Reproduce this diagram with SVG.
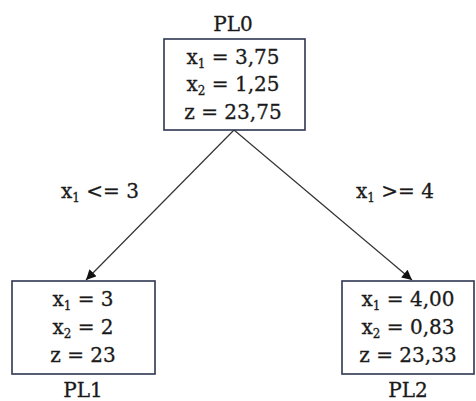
<svg xmlns="http://www.w3.org/2000/svg" width="476" height="401" viewBox="0 0 476 401">
<defs>
<style>
.t{font-family:"DejaVu Serif","Liberation Serif",serif;font-size:20px;fill:#1a1a1a;stroke:#1a1a1a;stroke-width:0.3;text-anchor:middle}
.s{font-size:12px}
.box{fill:#fff;stroke:#2e3650;stroke-width:1.6}
.edge{stroke:#333;stroke-width:1.2;fill:none}
</style>
<marker id="arr" viewBox="0 0 10 10" refX="10" refY="5" markerWidth="11" markerHeight="10" markerUnits="userSpaceOnUse" orient="auto">
<path d="M0,0 L10,5 L0,10 z" fill="#111"/>
</marker>
</defs>
<rect width="476" height="401" fill="#fff"/>
<g id="edges">
<line class="edge" x1="234" y1="130" x2="86" y2="280" marker-end="url(#arr)"/>
<line class="edge" x1="234" y1="130" x2="412" y2="280" marker-end="url(#arr)"/>
<text class="t" x="100" y="198">x<tspan class="s" dy="4">1</tspan><tspan dy="-4"> &lt;= 3</tspan></text>
<text class="t" x="395" y="198">x<tspan class="s" dy="4">1</tspan><tspan dy="-4"> &gt;= 4</tspan></text>
</g>
<g id="PL0">
<text class="t" x="233" y="31">PL0</text>
<rect class="box" x="164" y="39" width="141" height="91"/>
<text class="t" x="233" y="64">x<tspan class="s" dy="4">1</tspan><tspan dy="-4"> = 3,75</tspan></text>
<text class="t" x="233" y="91">x<tspan class="s" dy="4">2</tspan><tspan dy="-4"> = 1,25</tspan></text>
<text class="t" x="233" y="119">z = 23,75</text>
</g>
<g id="PL1">
<rect class="box" x="12" y="281" width="143" height="93"/>
<text class="t" x="83" y="306">x<tspan class="s" dy="4">1</tspan><tspan dy="-4"> = 3</tspan></text>
<text class="t" x="83" y="334">x<tspan class="s" dy="4">2</tspan><tspan dy="-4"> = 2</tspan></text>
<text class="t" x="83" y="362">z = 23</text>
<text class="t" x="83" y="397">PL1</text>
</g>
<g id="PL2">
<rect class="box" x="342" y="281" width="132" height="93"/>
<text class="t" x="408" y="306">x<tspan class="s" dy="4">1</tspan><tspan dy="-4"> = 4,00</tspan></text>
<text class="t" x="408" y="334">x<tspan class="s" dy="4">2</tspan><tspan dy="-4"> = 0,83</tspan></text>
<text class="t" x="408" y="362">z = 23,33</text>
<text class="t" x="408" y="397">PL2</text>
</g>
</svg>
